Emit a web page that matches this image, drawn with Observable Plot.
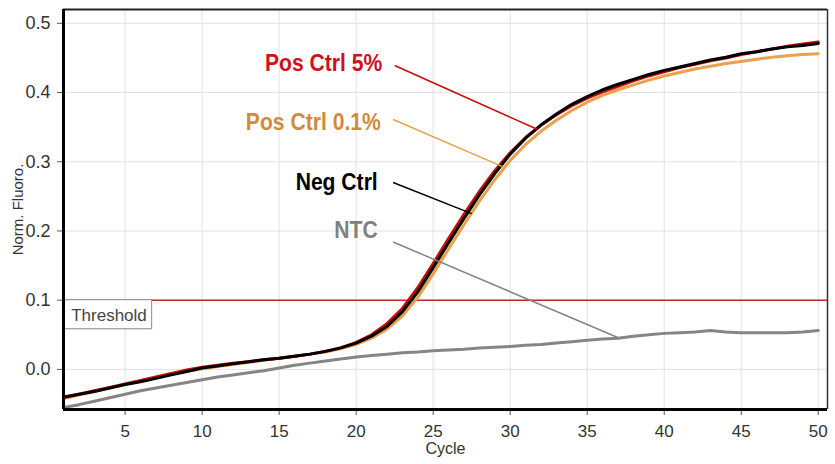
<!DOCTYPE html>
<html>
<head>
<meta charset="utf-8">
<script src="https://cdn.jsdelivr.net/npm/d3@7"></script>
<script src="https://cdn.jsdelivr.net/npm/@observablehq/plot@0.6"></script>
<style>
  html, body { margin: 0; padding: 0; background: #fff; }
  #chart svg { display: block; font-family: Arial, "Liberation Sans", sans-serif; }
</style>
</head>
<body>
<div id="chart"></div>
<script>
const cycles = [1,2,3,4,5,6,7,8,9,10,11,12,13,14,15,16,17,18,19,20,21,22,23,24,25,26,27,28,29,30,31,32,33,34,35,36,37,38,39,40,41,42,43,44,45,46,47,48,49,50];

const ntc = [-0.055,-0.051,-0.046,-0.041,-0.036,-0.031,-0.027,-0.023,-0.019,-0.015,-0.011,-0.008,-0.005,-0.002,0.002,0.006,0.009,0.012,0.015,0.018,0.020,0.022,0.024,0.025,0.027,0.028,0.029,0.031,0.032,0.033,0.035,0.036,0.038,0.040,0.042,0.044,0.045,0.048,0.050,0.052,0.053,0.054,0.056,0.054,0.053,0.053,0.053,0.053,0.054,0.056];

const posCtrl01 = [-0.042,-0.037,-0.032,-0.027,-0.022,-0.017,-0.012,-0.007,-0.003,0.001,0.004,0.007,0.010,0.013,0.016,0.019,0.022,0.025,0.030,0.036,0.045,0.058,0.077,0.104,0.138,0.174,0.209,0.243,0.274,0.302,0.325,0.344,0.360,0.374,0.386,0.396,0.404,0.411,0.418,0.424,0.429,0.434,0.438,0.442,0.445,0.448,0.451,0.453,0.455,0.456];

const posCtrl5 = [-0.041,-0.036,-0.031,-0.026,-0.021,-0.016,-0.011,-0.006,-0.001,0.003,0.006,0.009,0.011,0.014,0.016,0.019,0.022,0.026,0.031,0.039,0.050,0.066,0.088,0.118,0.153,0.189,0.224,0.257,0.287,0.313,0.335,0.353,0.368,0.381,0.392,0.401,0.409,0.417,0.424,0.430,0.436,0.441,0.446,0.450,0.455,0.459,0.463,0.467,0.470,0.473];

const negCtrl = [-0.040,-0.036,-0.032,-0.027,-0.022,-0.018,-0.013,-0.008,-0.003,0.002,0.005,0.008,0.011,0.014,0.016,0.019,0.022,0.026,0.031,0.038,0.048,0.062,0.083,0.112,0.147,0.183,0.218,0.252,0.283,0.311,0.334,0.353,0.369,0.383,0.394,0.404,0.412,0.419,0.426,0.432,0.437,0.442,0.447,0.451,0.456,0.459,0.463,0.466,0.468,0.471];

const xTicks = [5,10,15,20,25,30,35,40,45,50];
const yTicks = [0.0,0.1,0.2,0.3,0.4,0.5];
const threshold = 0.1;

const seriesNames = ["NTC","Pos Ctrl 0.1%","Pos Ctrl 5%","Neg Ctrl"];
const seriesColors = ["#858585","#e9a24c","#cc0a0a","#000000"];
const labelColors = ["#808080","#d08a3c","#d0101c","#000000"];

// annotation anchors (data coordinates): text end position and leader line
const labelX = [21.4, 21.6, 21.7, 21.4];
const labelY = [0.201, 0.357, 0.442, 0.270];
const leaderX1 = [22.4, 22.4, 22.5, 22.4];
const leaderY1 = [0.184, 0.361, 0.439, 0.270];
const leaderX2 = [37.1, 29.5, 31.75, 27.5];
const leaderY2 = [0.045, 0.293, 0.347, 0.225];

const xDomain = [1, 50.6];
const yDomain = [-0.058, 0.52];

const allSeries = [ntc, posCtrl01, posCtrl5, negCtrl];
const rows = [];
allSeries.forEach((vals, i) => vals.forEach((v, j) => rows.push({series: seriesNames[i], cycle: cycles[j], value: v})));

const labels = seriesNames.map((s, i) => ({s, x: labelX[i], y: labelY[i], c: labelColors[i], x1: leaderX1[i], y1: leaderY1[i], x2: leaderX2[i], y2: leaderY2[i], lc: seriesColors[i]}));

const chart = Plot.plot({
  width: 835,
  height: 464,
  marginLeft: 63,
  marginRight: 8,
  marginTop: 9,
  marginBottom: 55,
  style: {background: "#fff", color: "#333"},
  x: {domain: xDomain},
  y: {domain: yDomain},
  color: {domain: seriesNames, range: seriesColors},
  marks: [
    Plot.gridX(xTicks, {stroke: "#e2e2e2", strokeOpacity: 1, strokeWidth: 1}),
    Plot.gridY(yTicks, {stroke: "#e2e2e2", strokeOpacity: 1, strokeWidth: 1}),
    Plot.axisX(xTicks, {tickSize: 6, tickPadding: 9, fontSize: 17, label: null, stroke: "#555"}),
    Plot.axisY(yTicks, {tickSize: 6, tickPadding: 7, fontSize: 18, label: null, tickFormat: ".1f", stroke: "#555"}),
    Plot.text(["Cycle"], {frameAnchor: "bottom", dy: 44, fontSize: 16, fill: "#333"}),
    Plot.text(["Norm. Fluoro."], {frameAnchor: "left", dx: -45, rotate: -90, textAnchor: "middle", fontSize: 15, fill: "#333"}),
    Plot.ruleY([threshold], {stroke: "#c0282b", strokeWidth: 1.5}),
    Plot.rect([{x1: xDomain[0], x2: 6.75, y1: 0.058, y2: threshold}], {x1: "x1", x2: "x2", y1: "y1", y2: "y2", fill: "#fff", stroke: "#9a9a9a", strokeWidth: 1.2, inset: 0}),
    Plot.text([{t: "Threshold", x: 1.5, y: 0.078}], {x: "x", y: "y", text: "t", textAnchor: "start", fontSize: 17, fill: "#444"}),
    Plot.line(rows, {x: "cycle", y: "value", z: "series", stroke: "series", strokeWidth: 3, curve: "linear"}),
    Plot.link(labels, {x1: "x1", y1: "y1", x2: "x2", y2: "y2", stroke: "lc", strokeWidth: 1.5}),
    Plot.text(labels, {x: "x", y: "y", text: "s", fill: "c", textAnchor: "end", fontSize: 24, fontWeight: "bold", fontFamily: "Arial, 'Liberation Sans', sans-serif"}),
    Plot.ruleY([yDomain[1]], {stroke: "#222", strokeWidth: 2}),
    Plot.ruleX([xDomain[1]], {stroke: "#333", strokeWidth: 1.5}),
    Plot.ruleX([xDomain[0]], {stroke: "#000", strokeWidth: 3}),
    Plot.ruleY([yDomain[0]], {stroke: "#000", strokeWidth: 3})
  ]
});
document.getElementById("chart").appendChild(chart);

// condense the bold annotation labels horizontally (narrow bold face in the original)
d3.select(chart).selectAll("g[aria-label='text'][font-weight='bold'] text").each(function() {
  const w = this.getComputedTextLength();
  this.setAttribute("textLength", (w * 0.88).toFixed(1));
  this.setAttribute("lengthAdjust", "spacingAndGlyphs");
});
</script>
</body>
</html>
